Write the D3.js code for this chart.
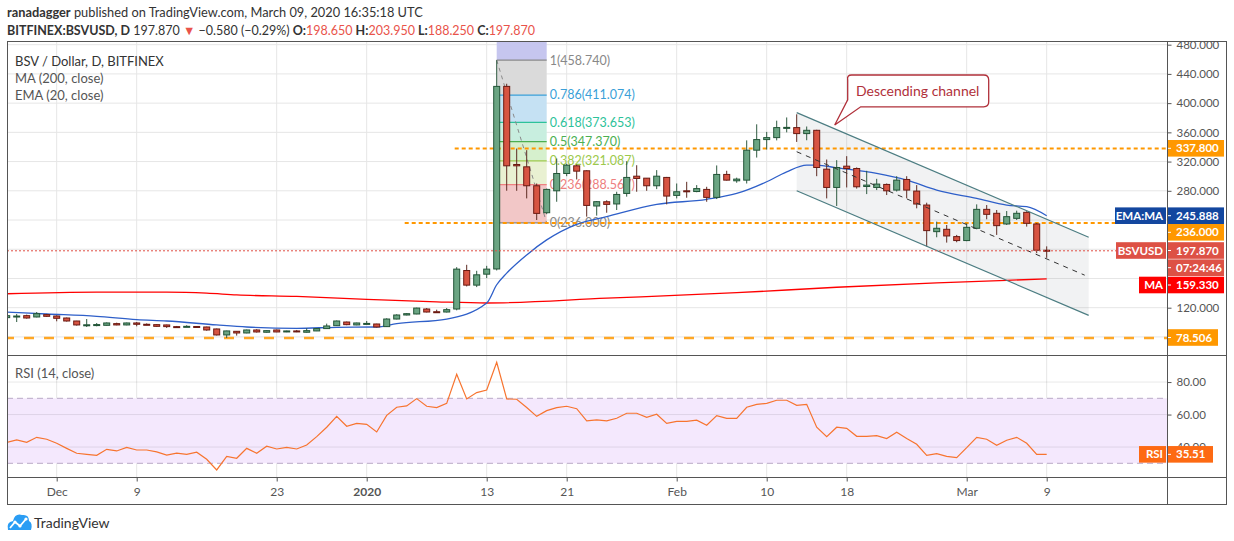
<!DOCTYPE html>
<html><head><meta charset="utf-8">
<script src="https://cdn.jsdelivr.net/npm/d3@7"></script>
<style>
body{margin:0;background:#fff;}
svg text{font-family:Lato,"Noto Sans",sans-serif;}
</style></head><body>
<svg id="chart" width="1234" height="541"></svg>
<script>
// Daten: BSV/USD täglich, 26.11.2019 – 09.03.2020
const startDay = Date.UTC(2019, 10, 26);
const opens = [106.4,108.2,109.1,107.3,110.5,108.6,105.9,101.8,96.4,96.6,95.9,98.2,96.4,99.1,97.3,96.8,96.4,94.1,94.0,94.3,
  93.6,90.9,82.7,87.7,85.4,89.5,86.4,89.5,86.8,88.2,86.4,88.2,91.4,95.4,100.4,96.4,98.2,97.7,94.1,104.5,
  110.0,111.4,118.2,114.5,114.1,118.2,170.9,150.9,165.9,173.0,422.9,316.0,312.8,286.9,250.0,280.0,303.7,314.2,307.4,259.2,
  265.0,262.0,276.4,300.0,297.3,286.9,298.3,273.7,280.0,279.0,281.9,271.0,302.4,293.7,294.6,335.6,350.1,352.8,366.5,366.5,
  358.3,362.8,309.6,284.6,313.7,310.5,285.9,284.6,288.7,281.0,295.5,279.6,260.5,224.1,227.3,217.3,211.9,228.7,254.6,249.2,
  234.6,242.3,250.5,234.6,198.65];
const highs = [110.5,111.4,110.5,114.1,111.5,109.5,106.5,102.0,104.5,99.0,99.8,99.5,99.6,100.4,98.5,97.3,96.8,95.0,96.0,94.8,
  94.0,91.4,88.6,88.0,90.0,90.5,89.0,90.0,88.6,89.5,91.8,92.0,98.2,102.5,101.0,99.5,101.8,98.0,105.5,111.0,
  112.5,120.0,119.5,117.3,119.5,175.5,178.7,170.5,177.3,458.74,426.5,337.8,335.6,290.0,283.0,324.2,317.0,316.0,308.0,266.0,
  267.0,278.7,320.5,315.0,297.5,308.3,299.0,290.0,292.3,287.8,285.5,314.7,307.4,298.0,349.0,371.0,360.6,376.0,380.4,384.7,
  368.0,363.5,322.8,321.9,327.4,312.0,307.4,296.4,290.0,300.0,300.0,287.8,263.7,237.8,233.2,219.6,235.5,261.4,260.5,253.7,
  252.3,252.8,252.0,236.0,203.95];
const lows = [105.0,100.4,105.0,106.8,107.5,101.4,101.0,95.5,93.6,94.5,95.5,95.9,95.9,94.5,96.0,94.0,92.3,92.5,93.5,93.0,
  88.5,82.0,78.5,81.8,85.0,86.0,86.0,86.5,86.5,86.5,86.0,88.0,91.0,95.0,96.0,96.0,97.5,93.0,93.6,104.0,
  109.5,111.0,113.5,113.5,113.5,116.4,149.1,148.2,160.5,171.0,280.1,280.0,269.6,240.0,248.0,265.0,300.0,295.5,244.6,246.0,
  250.0,253.7,272.0,278.7,280.0,282.3,261.4,269.6,270.5,278.0,265.0,268.7,294.0,291.0,290.0,325.5,336.5,349.0,360.0,346.9,
  349.2,300.0,269.6,259.2,284.6,283.0,275.5,281.0,274.2,279.0,269.6,256.0,203.7,216.4,209.1,209.6,211.0,227.3,241.0,219.6,
  233.2,240.0,231.0,194.6,188.25];
const closes = [109.1,108.6,105.9,111.8,108.2,105.5,101.8,96.4,96.6,96.9,99.1,96.4,99.1,97.3,96.8,94.5,94.1,93.8,94.5,93.6,
  89.5,82.7,88.2,85.4,89.5,86.8,88.6,86.8,88.2,88.0,88.6,91.4,95.0,101.8,96.8,99.1,98.5,93.6,104.5,110.0,
  111.8,119.5,114.1,114.3,117.3,172.8,150.9,165.0,172.8,422.9,314.2,314.2,286.9,249.1,281.9,303.7,315.1,306.9,260.0,265.1,
  261.4,275.0,298.3,296.9,286.9,300.0,272.8,278.7,279.6,283.0,271.0,302.4,294.6,296.0,335.6,350.1,352.8,366.5,366.8,358.3,
  362.8,311.9,284.6,311.9,310.5,285.5,287.8,289.2,280.0,294.6,281.0,261.9,225.5,228.7,218.2,211.9,230.0,254.6,247.8,232.3,
  244.6,249.2,235.5,198.65,197.87];
const rsiValues = [42.9,44.4,42.9,46.0,44.8,42.3,39.2,36.2,35.5,34.9,38.6,37.6,39.8,38.2,38.2,37.0,35.1,36.2,35.5,36.8,
  32.5,25.9,34.3,33.1,39.2,36.2,40.5,38.8,39.8,38.8,41.3,46.4,52.2,58.9,52.8,54.6,54.0,49.3,59.5,64.5,
  65.3,69.8,65.1,64.3,66.9,84.8,69.6,73.5,75.1,92.2,69.6,69.4,64.3,58.9,62.4,64.3,65.1,63.6,56.1,56.7,
  56.1,57.7,60.8,60.8,58.3,60.2,54.6,55.8,55.8,56.5,53.4,59.3,57.7,57.7,64.5,66.3,66.9,68.8,68.8,65.7,
  66.3,52.2,46.4,52.2,51.5,46.6,46.6,47.0,45.2,49.1,45.2,41.7,34.9,35.9,34.3,33.5,39.6,46.0,44.8,41.1,
  44.2,46.0,42.3,35.5,35.51];
const emaPoints = [[0,114],[4,111.4],[9,108.2],[13,103.6],[16,101.8],[21,96.4],[24,93.6],[29,91.8],[33,93.2],[37,93.6],
  [39,98.2],[44,104.5],[48,126.4],[49,151.4],[50,167.3],[52,192.3],[54,212.8],[57,234.1],[60,244.6],[65,261.4],
  [70,268.3],[73,276.4],[76,292.4],[78,306],[80,315.1],[81,315.1],[83,311.5],[87,303.7],[90,294.6],[93,281],
  [97,269.6],[100,260.5],[102,258.2],[104,245.888]];
const maPoints = [[0,139.1],[9,141.4],[16,141.4],[20,140.0],[23,137.5],[29,135.5],[36,131.5],[43,128],[48,126.4],
  [60,133],[73,140.5],[83,148],[93,154],[100,157.5],[104,159.33]];
const fibRatios = ["1","0.786","0.618","0.5","0.382","0.236","0"];
const fibPrices = [458.74,411.074,373.653,347.37,321.087,288.567,236.0];
const priceTicks = [80,120,160,200,240,280,320,360,400,440,480];
const hiddenPriceLabels = [80,160,200,240]; // liegen hinter den Preis-Labels
const rsiTicks = [40,60,80];
const timeTickDates = [[2019,11,1],[2019,11,9],[2019,11,23],[2020,0,1],[2020,0,13],[2020,0,21],[2020,1,1],[2020,1,10],[2020,1,18],[2020,2,1],[2020,2,9]];
const timeTickLabels = ["Dec","9","23","2020","13","21","Feb","10","18","Mar","9"];

const dayMs = 864e5;
const dates = opens.map((_, i) => new Date(startDay + i * dayMs));
const dayDate = d => new Date(startDay + d * dayMs);

// Layout
const L = 7, R = 1167, AX = 1227, TOP = 41, MID = 355, RB = 477, BOT = 505;
const svg = d3.select("#chart");

const x = d3.scaleUtc().domain([dates[0], dates[dates.length - 1]]).range([6.7, 1046.7]);
const y = d3.scaleLinear().domain([120, 440]).range([307.7, 73.9]);
const yr = d3.scaleLinear().domain([30, 70]).range([463.3, 398.3]);

const defs = svg.append("defs");
defs.append("clipPath").attr("id", "clipMain").append("rect").attr("x", L).attr("y", TOP).attr("width", R - L).attr("height", MID - TOP);
defs.append("clipPath").attr("id", "clipRsi").append("rect").attr("x", L).attr("y", MID).attr("width", R - L).attr("height", RB - MID);
defs.append("clipPath").attr("id", "clipAxis").append("rect").attr("x", R).attr("y", TOP + 1).attr("width", AX - R).attr("height", MID - TOP - 1);

// Kopfzeilen
const h1 = svg.append("text").attr("x", 7).attr("y", 17).attr("font-size", 12.8).attr("fill", "#333");
h1.append("tspan").attr("font-weight", 700).text("ranadagger");
h1.append("tspan").text(" published on TradingView.com, March 09, 2020 16:35:18 UTC");
const h2 = svg.append("text").attr("x", 7).attr("y", 35).attr("font-size", 12.5).attr("fill", "#333");
const red = "#e9534a";
[["BITFINEX:BSVUSD, D", 700, "#333"], [" 197.870 ", 400, "#333"], ["▼", 400, red], [" −0.580 (−0.29%) ", 400, "#333"],
 ["O:", 700, "#333"], ["198.650", 400, red], [" H:", 700, "#333"], ["203.950", 400, red],
 [" L:", 700, "#333"], ["188.250", 400, red], [" C:", 700, "#333"], ["197.870", 400, red]]
  .forEach(p => h2.append("tspan").attr("font-weight", p[1]).attr("fill", p[2]).text(p[0]));

// Gitter
const grid = svg.append("g").attr("stroke", "#e6e6e6").attr("stroke-width", 1);
timeTickDates.forEach(t => {
  const xx = x(new Date(Date.UTC(t[0], t[1], t[2])));
  grid.append("line").attr("x1", xx).attr("x2", xx).attr("y1", TOP).attr("y2", RB);
});
const main = svg.append("g").attr("clip-path", "url(#clipMain)");
priceTicks.forEach(v => main.append("line").attr("x1", L).attr("x2", R).attr("y1", y(v)).attr("y2", y(v)).attr("stroke", "#e6e6e6"));

// Fibonacci
const fx0 = x(dates[49]), fx1 = x(dates[54]);
const fibFill = ["#dadada", "#c5e1f3", "#c8eedf", "#d6f0cd", "#e9f1d2", "#f2c7c7"];
const fibLine = ["#888", "#3a9fd8", "#2dc29a", "#4caf50", "#9cc94c", "#ee8080", "#888"];
main.append("rect").attr("x", fx0).attr("width", fx1 - fx0).attr("y", TOP).attr("height", y(fibPrices[0]) - TOP).attr("fill", "#c6c6ef");
fibFill.forEach((c, i) => main.append("rect").attr("x", fx0).attr("width", fx1 - fx0)
  .attr("y", y(fibPrices[i])).attr("height", y(fibPrices[i + 1]) - y(fibPrices[i])).attr("fill", c));
fibPrices.forEach((p, i) => {
  main.append("line").attr("x1", fx0).attr("x2", fx1).attr("y1", y(p)).attr("y2", y(p)).attr("stroke", fibLine[i]).attr("stroke-width", 1.2);
  main.append("text").attr("x", fx1 + 3).attr("y", y(p)).attr("dy", "0.35em").attr("font-size", 12.5)
    .attr("fill", fibLine[i]).text(`${fibRatios[i]}(${p.toFixed(3)})`);
});
main.append("line").attr("x1", fx0).attr("y1", y(fibPrices[0])).attr("x2", fx1).attr("y2", y(fibPrices[6]))
  .attr("stroke", "#8a8a8a").attr("stroke-dasharray", "4,4");

// Absteigender Kanal
const c0 = dayDate(79), c1 = dayDate(108.2);
const upper = [387, 216.5], lower = [280, 109.5];
main.append("path").attr("fill", "rgba(120,123,134,0.1)")
  .attr("d", `M${x(c0)},${y(upper[0])}L${x(c1)},${y(upper[1])}L${x(c1)},${y(lower[1])}L${x(c0)},${y(lower[0])}Z`);

// Horizontale Linien
main.append("line").attr("x1", x(dayDate(44.8))).attr("x2", R).attr("y1", y(337.8)).attr("y2", y(337.8))
  .attr("stroke", "#ff9800").attr("stroke-width", 2).attr("stroke-dasharray", "4,3");
main.append("line").attr("x1", x(dayDate(39.8))).attr("x2", R).attr("y1", y(236)).attr("y2", y(236))
  .attr("stroke", "#ff9800").attr("stroke-width", 2).attr("stroke-dasharray", "4,3");
main.append("line").attr("x1", L).attr("x2", R).attr("y1", y(78.506)).attr("y2", y(78.506))
  .attr("stroke", "#ffa726").attr("stroke-width", 2.5).attr("stroke-dasharray", "10,10").attr("stroke-dashoffset", 3);

// MA / EMA
const line = d3.line().x(d => x(dayDate(d[0]))).y(d => y(d[1])).curve(d3.curveMonotoneX);
main.append("path").attr("d", line(maPoints)).attr("fill", "none").attr("stroke", "#ff0000").attr("stroke-width", 1.3);
main.append("path").attr("d", line(emaPoints)).attr("fill", "none").attr("stroke", "#2e5fc9").attr("stroke-width", 1.3);

// Kerzen
const candles = dates.map((dt, i) => ({ dt, o: opens[i], h: highs[i], l: lows[i], c: closes[i], up: closes[i] >= opens[i] }));
const cg = main.append("g").selectAll("g").data(candles).enter().append("g");
cg.append("line").attr("x1", d => x(d.dt)).attr("x2", d => x(d.dt)).attr("y1", d => y(d.h)).attr("y2", d => y(d.l))
  .attr("stroke", d => d.up ? "#2f5a40" : "#5e2a22");
cg.append("rect").attr("x", d => x(d.dt) - 3).attr("width", 6)
  .attr("y", d => y(Math.max(d.o, d.c))).attr("height", d => Math.max(1, Math.abs(y(d.o) - y(d.c))))
  .attr("fill", d => d.up ? "#6ba583" : "#d75442").attr("stroke", d => d.up ? "#225437" : "#6b1a12").attr("stroke-width", 1);

// Kanal-Linien
main.append("line").attr("x1", x(c0)).attr("y1", y(upper[0])).attr("x2", x(c1)).attr("y2", y(upper[1])).attr("stroke", "#4c7d82").attr("stroke-width", 1.2);
main.append("line").attr("x1", x(c0)).attr("y1", y(lower[0])).attr("x2", x(c1)).attr("y2", y(lower[1])).attr("stroke", "#4c7d82").attr("stroke-width", 1.2);
main.append("line").attr("x1", x(c0)).attr("y1", y((upper[0] + lower[0]) / 2)).attr("x2", x(dayDate(107.8))).attr("y2", y((upper[1] + lower[1]) / 2 + 1.5))
  .attr("stroke", "#333").attr("stroke-dasharray", "5,5");

// letzter Kurs
main.append("line").attr("x1", L).attr("x2", R).attr("y1", y(197.87)).attr("y2", y(197.87))
  .attr("stroke", "#e04f45").attr("stroke-dasharray", "2,2");

// Sprechblase
const bx0 = x(dayDate(84)), bx1 = x(dayDate(98.2)), by0 = y(438.5), by1 = y(395);
const tip = [x(dayDate(82.8)), y(370)];
main.append("path").attr("fill", "#fff").attr("stroke", "#b0303a").attr("stroke-width", 1.3)
  .attr("d", `M${bx0 + 5},${by0}H${bx1 - 5}Q${bx1},${by0} ${bx1},${by0 + 5}V${by1 - 5}Q${bx1},${by1} ${bx1 - 5},${by1}` +
    `H${bx0 + 14}L${tip[0]},${tip[1]}L${bx0 + 1},${by1 - 7}V${by0 + 5}Q${bx0},${by0} ${bx0 + 5},${by0}Z`);
main.append("text").attr("x", (bx0 + bx1) / 2).attr("y", (by0 + by1) / 2).attr("dy", "0.35em").attr("text-anchor", "middle")
  .attr("font-size", 14).attr("fill", "#b0303a").text("Descending channel");

// Legende
svg.append("text").attr("x", 15).attr("y", 61).attr("dy", "0.35em").attr("font-size", 13).attr("fill", "#333").text("BSV / Dollar, D, BITFINEX");
svg.append("text").attr("x", 15).attr("y", 78).attr("dy", "0.35em").attr("font-size", 13).attr("fill", "#555").text("MA (200, close)");
svg.append("text").attr("x", 15).attr("y", 95).attr("dy", "0.35em").attr("font-size", 13).attr("fill", "#555").text("EMA (20, close)");

// RSI
const rsiG = svg.append("g").attr("clip-path", "url(#clipRsi)");
rsiG.append("rect").attr("x", L).attr("width", R - L).attr("y", yr(70)).attr("height", yr(30) - yr(70)).attr("fill", "#f4e8fd");
rsiTicks.forEach(v => rsiG.append("line").attr("x1", L).attr("x2", R).attr("y1", yr(v)).attr("y2", yr(v)).attr("stroke", "rgba(0,0,0,0.09)"));
[70, 30].forEach(v => rsiG.append("line").attr("x1", L).attr("x2", R).attr("y1", yr(v)).attr("y2", yr(v))
  .attr("stroke", "#b8a9c6").attr("stroke-dasharray", "6,4"));
rsiG.append("path").attr("fill", "none").attr("stroke", "#f7742f").attr("stroke-width", 1.2)
  .attr("d", d3.line().x((d, i) => x(dates[i])).y(d => yr(d))(rsiValues));
svg.append("text").attr("x", 15).attr("y", 373).attr("dy", "0.35em").attr("font-size", 13).attr("fill", "#555").text("RSI (14, close)");

// Rahmen
const frame = svg.append("g").attr("stroke", "#555").attr("fill", "none").attr("stroke-width", 1);
frame.append("rect").attr("x", L + 0.5).attr("y", TOP + 0.5).attr("width", AX - L - 1).attr("height", BOT - TOP - 1);
frame.append("line").attr("x1", R + 0.5).attr("x2", R + 0.5).attr("y1", TOP).attr("y2", BOT);
frame.append("line").attr("x1", L).attr("x2", AX).attr("y1", MID + 0.5).attr("y2", MID + 0.5);
frame.append("line").attr("x1", L).attr("x2", AX).attr("y1", RB + 0.5).attr("y2", RB + 0.5);

// Preisachse
const pAxis = svg.append("g").attr("clip-path", "url(#clipAxis)").append("g")
  .attr("transform", `translate(${R + 0.5},0)`)
  .call(d3.axisRight(y).tickValues(priceTicks).tickFormat(d3.format(".3f")).tickSize(4).tickPadding(5));
pAxis.select(".domain").remove();
pAxis.selectAll("line").attr("stroke", "#555");
pAxis.selectAll("text").attr("font-size", 11.5).attr("fill", "#555").attr("font-family", "Lato")
  .filter(d => hiddenPriceLabels.includes(d)).remove();

const rAxis = svg.append("g").attr("transform", `translate(${R + 0.5},0)`)
  .call(d3.axisRight(yr).tickValues(rsiTicks).tickFormat(d3.format(".2f")).tickSize(4).tickPadding(5));
rAxis.select(".domain").remove();
rAxis.selectAll("line").attr("stroke", "#555");
rAxis.selectAll("text").attr("font-size", 11.5).attr("fill", "#555").attr("font-family", "Lato");

// Zeitachse
const tAxis = svg.append("g").attr("transform", `translate(0,${RB + 0.5})`)
  .call(d3.axisBottom(x).tickValues(timeTickDates.map(t => new Date(Date.UTC(t[0], t[1], t[2]))))
    .tickFormat((d, i) => timeTickLabels[i]).tickSize(4).tickPadding(6));
tAxis.select(".domain").remove();
tAxis.selectAll("line").attr("stroke", "#555");
tAxis.selectAll("text").attr("font-size", 12).attr("fill", "#555").attr("font-family", "Lato")
  .attr("font-weight", (d, i) => timeTickLabels[i] === "2020" ? 700 : 400);

// Preis-Labels
function valueBox(yc, txt, color, w = 56) {
  svg.append("rect").attr("x", R + 1).attr("y", yc - 8.3).attr("width", w).attr("height", 16.6).attr("fill", color);
  svg.append("text").attr("x", R + 9).attr("y", yc).attr("dy", "0.35em").attr("font-size", 11.5).attr("font-weight", 700)
    .attr("fill", "#fff").text(txt);
  svg.append("line").attr("x1", R + 1).attr("x2", R + 4).attr("y1", yc).attr("y2", yc).attr("stroke", "#fff");
}
function nameBox(yc, txt, color, x0) {
  svg.append("rect").attr("x", x0).attr("y", yc - 8.3).attr("width", R - 1 - x0).attr("height", 16.6).attr("fill", color);
  svg.append("text").attr("x", R - 4).attr("y", yc).attr("dy", "0.35em").attr("text-anchor", "end").attr("font-size", 11.5)
    .attr("font-weight", 700).attr("fill", "#fff").text(txt);
}
valueBox(148.3, "337.800", "#ff9800");
valueBox(215.7, "245.888", "#13479f"); nameBox(215.7, "EMA:MA", "#13479f", 1115);
valueBox(232.3, "236.000", "#ff9800");
valueBox(250.5, "197.870", "#dd5145"); nameBox(250.5, "BSVUSD", "#dd5145", 1116);
valueBox(267.7, "07:24:46", "#dd5145");
valueBox(285, "159.330", "#ff0000"); nameBox(285, "MA", "#ff0000", 1139);
valueBox(337.5, "78.506", "#ff9800", 50);
valueBox(yr(35.51), "35.51", "#fd6a13", 45); nameBox(yr(35.51), "RSI", "#fd6a13", 1139);

// TradingView-Logo
const logo = svg.append("g");
logo.append("path").attr("fill", "#2a9df4")
  .attr("d", "M8,530 Q6,522 13,521 Q15,513 22,515 Q29,514 29,521 Q33,523 31,530 Z");
logo.append("polyline").attr("points", "10,528 15,522 20,526 26,519").attr("fill", "none").attr("stroke", "#fff").attr("stroke-width", 1.8);
[[15,522],[20,526],[26,519]].forEach(p => logo.append("circle").attr("cx", p[0]).attr("cy", p[1]).attr("r", 1.6).attr("fill", "#fff"));
svg.append("text").attr("x", 34).attr("y", 523).attr("dy", "0.35em").attr("font-size", 14).attr("fill", "#333").text("TradingView");
</script></body></html>
